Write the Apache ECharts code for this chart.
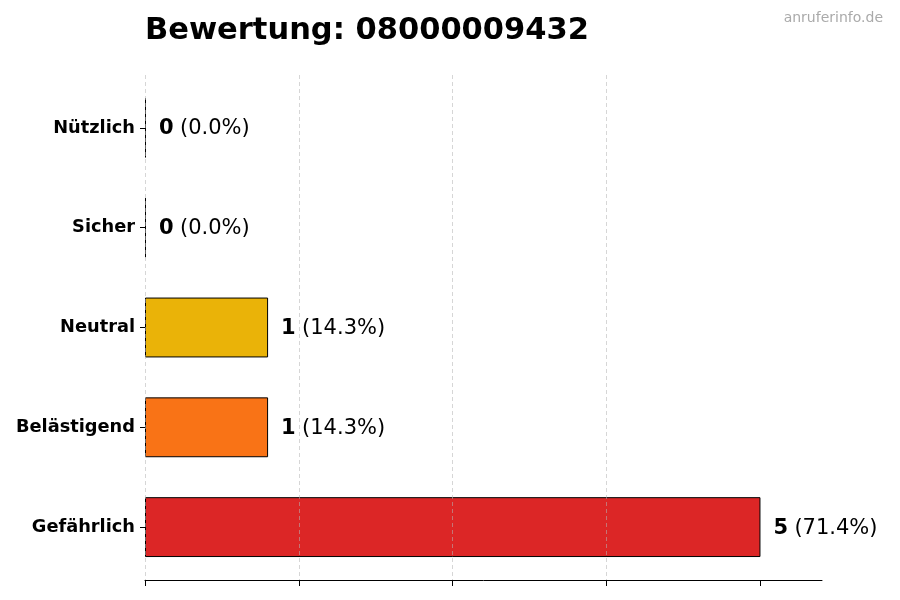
<!DOCTYPE html>
<html>
<head>
<meta charset="utf-8">
<script src="https://cdn.jsdelivr.net/npm/echarts@6/dist/echarts.min.js"></script>
<style>
  html, body { margin: 0; padding: 0; background: #fff; }
  #main { width: 900px; height: 600px; }
</style>
</head>
<body>
<div id="main"></div>
<script>
// Kategorien von oben nach unten
var categories = ['Nützlich', 'Sicher', 'Neutral', 'Belästigend', 'Gefährlich'];
var counts = [0, 0, 1, 1, 5];
var barColors = ['#22c55e', '#3b82f6', '#eab308', '#f97316', '#dc2626'];
var xTicks = [0, 1.25, 2.5, 3.75, 5];

var total = counts.reduce(function (a, b) { return a + b; }, 0);

var chart = echarts.init(document.getElementById('main'));
var font = 'DejaVu Sans';

var option = {
    backgroundColor: '#fff',
    animation: false,
    title: [{
        text: 'Bewertung: 08000009432',
        left: 140,
        top: 11,
        textStyle: { fontFamily: font, fontSize: 30.5, fontWeight: 'bold', color: '#000' }
    }, {
        text: 'anruferinfo.de',
        right: 12,
        top: 6,
        textStyle: { fontFamily: font, fontSize: 14, fontWeight: 'normal', color: '#aaaaaa' }
    }],
    // grid 0: Balken, grid 1: Achse und Gitter (etwas groesser, wie bei matplotlib-Raendern)
    grid: [
        { left: 145, right: 78, top: 78, bottom: 23 },
        { left: 145, right: 78, top: 75, bottom: 20 }
    ],
    xAxis: [{
        type: 'value',
        gridIndex: 0,
        min: 0,
        max: 5.5,
        show: false
    }, {
        type: 'value',
        gridIndex: 1,
        min: 0,
        max: 5.5,
        interval: 1.25,
        z: 5,
        axisLine: { show: true, lineStyle: { color: '#000', width: 1 } },
        axisTick: { show: true, length: 6, customValues: xTicks, lineStyle: { color: '#000' } },
        axisLabel: { show: false },
        splitLine: {
            show: true,
            showMaxLine: false,
            lineStyle: { color: 'rgba(180,180,180,0.55)', type: [4, 3], width: 1 }
        }
    }],
    yAxis: [{
        type: 'category',
        gridIndex: 0,
        data: categories,
        inverse: true,
        axisLine: { show: false },
        axisTick: { show: true, length: 5, alignWithLabel: true, lineStyle: { color: '#000' } },
        axisLabel: { fontFamily: font, fontSize: 17.8, fontWeight: 'bold', color: '#000', margin: 10, padding: [3, 0, 0, 0] },
        splitLine: { show: false }
    }, {
        type: 'value',
        gridIndex: 1,
        min: 0,
        max: 1,
        show: false
    }],
    series: [{
        type: 'bar',
        xAxisIndex: 0,
        yAxisIndex: 0,
        barWidth: '60%',
        barMinHeight: 1,
        data: counts.map(function (v, i) {
            return { value: v, itemStyle: { color: barColors[i] } };
        }),
        itemStyle: { borderColor: '#000', borderWidth: 1 },
        label: {
            show: true,
            position: 'right',
            distance: 13,
            offset: [0, 1],
            formatter: function (p) {
                var pct = (total ? counts[p.dataIndex] / total * 100 : 0).toFixed(1);
                return '{b|' + counts[p.dataIndex] + '} {n|(' + pct + '%)}';
            },
            rich: {
                b: { fontFamily: font, fontSize: 21, fontWeight: 'bold', color: '#000', padding: [0, 3, 0, 0] },
                n: { fontFamily: font, fontSize: 21, color: '#000' }
            }
        }
    }]
};

chart.setOption(option);
</script>
</body>
</html>
